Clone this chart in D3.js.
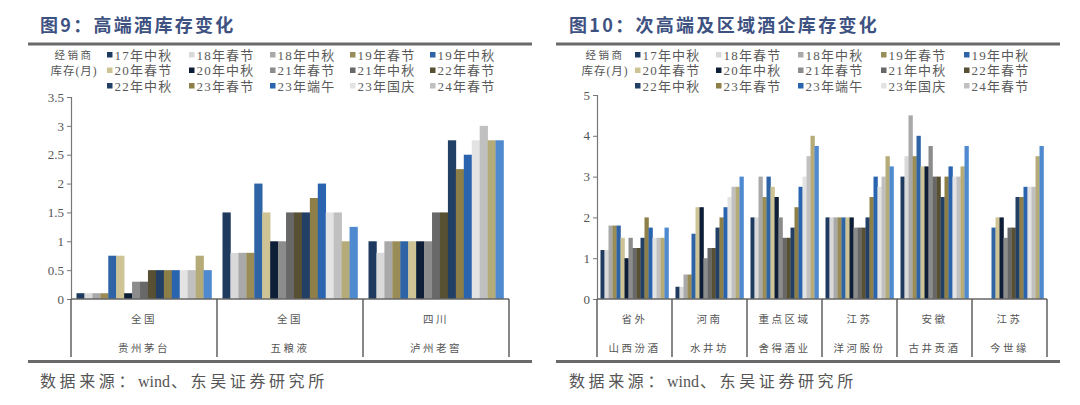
<!DOCTYPE html>
<html><head><meta charset="utf-8">
<script src="https://cdn.jsdelivr.net/npm/d3@7"></script>
<style>
html,body{margin:0;padding:0;background:#fff;}
svg{display:block;}
</style></head>
<body>
<svg id="c" width="1080" height="405"></svg>
<script>
// ---- data ----
const seriesNames = ["17年中秋","18年春节","18年中秋","19年春节","19年中秋","20年春节","20年中秋","21年春节","21年中秋","22年春节","22年中秋","23年春节","23年端午","23年国庆","24年春节","24年端午","24年中秋"];
const legendCount = 15;
const seriesColors = ["#1f3a5f","#d9d9d9","#a9a9a9","#9a8c56","#2e64a6","#cdc394","#0e1e36","#8c8c8c","#686868","#575033","#223f66","#8e7f48","#2a63ae","#e3e3e3","#c0c0c0","#b5ab78","#4f8ad0"];

const leftTitle = "图9：高端酒库存变化";
const leftRegions = ["全国","全国","四川"];
const leftCompanies = ["贵州茅台","五粮液","泸州老窖"];
const leftTicks = [0,0.5,1,1.5,2,2.5,3,3.5];
const leftTickLabels = ["0","0.5","1","1.5","2","2.5","3","3.5"];
const moutai    = [0.1,0.1,0.1,0.1,0.75,0.75,0.1,0.3,0.3,0.5,0.5,0.5,0.5,0.5,0.5,0.75,0.5];
const wuliangye = [1.5,0.8,0.8,0.8,2.0,1.5,1.0,1.0,1.5,1.5,1.5,1.75,2.0,1.5,1.5,1.0,1.25];
const luzhou    = [1.0,0.8,1.0,1.0,1.0,1.0,1.0,1.0,1.5,1.5,2.75,2.25,2.5,2.75,3.0,2.75,2.75];

const rightTitle = "图10：次高端及区域酒企库存变化";
const rightRegions = ["省外","河南","重点区域","江苏","安徽","江苏"];
const rightCompanies = ["山西汾酒","水井坊","舍得酒业","洋河股份","古井贡酒","今世缘"];
const rightTicks = [0,1,2,3,4,5];
const rightTickLabels = ["0","1","2","3","4","5"];
const fenjiu       = [1.2,1.2,1.8,1.8,1.8,1.5,1.0,1.5,1.25,1.25,1.5,2.0,1.75,1.5,1.5,1.5,1.75];
const shuijingfang = [0.3,0.3,0.6,0.6,1.6,2.25,2.25,1.0,1.25,1.25,1.75,2.0,2.25,2.5,2.75,2.75,3.0];
const shede        = [2.0,2.0,3.0,2.5,3.0,2.75,2.5,2.0,1.5,1.5,1.75,2.25,2.75,3.0,3.5,4.0,3.75];
const yanghe       = [2.0,2.0,2.0,2.0,2.0,2.0,2.0,1.75,1.75,1.75,2.0,2.5,3.0,2.75,3.0,3.5,3.25];
const gujing       = [3.0,3.5,4.5,3.5,4.0,3.25,3.25,3.75,3.0,3.0,2.5,3.0,3.25,3.0,3.0,3.25,3.75];
const jinshiyuan   = [null,null,null,null,1.75,2.0,2.0,1.5,1.75,1.75,2.5,2.5,2.75,2.75,2.75,3.5,3.75];

const yLabel1 = "经销商";
const yLabel2 = "库存(月)";
const sourceParts = ["数据来源：", "wind", "、东吴证券研究所"];

// ---- drawing ----
const svg = d3.select("#c");
const serif = "'Liberation Serif','Noto Sans CJK SC',serif";
const cjk = "'Noto Sans CJK SC',sans-serif";

function drawPanel(o){
  const g = svg.append("g");
  // title
  g.append("text").attr("x", o.titleX).attr("y", 32)
    .attr("font-family", cjk).attr("font-weight", 700).attr("font-size", 18).attr("letter-spacing", 2.3)
    .attr("fill", "#3e5282").text(o.title);
  // rules
  g.append("rect").attr("x", o.lineX0).attr("y", 42.5).attr("width", o.lineX1 - o.lineX0).attr("height", 3).attr("fill", "#6a6a6a");
  g.append("rect").attr("x", o.lineX0).attr("y", 360).attr("width", o.lineX1 - o.lineX0).attr("height", 3).attr("fill", "#6a6a6a");
  // y label
  g.append("text").attr("x", o.yLabX).attr("y", 59).attr("text-anchor","middle")
    .attr("font-family", cjk).attr("font-size", 10.5).attr("letter-spacing", 2.5).attr("fill","#555").text(yLabel1);
  g.append("text").attr("x", o.yLabX).attr("y", 75).attr("text-anchor","middle")
    .attr("font-family", serif).attr("font-size", 11.5).attr("letter-spacing", 1).attr("fill","#555").text(yLabel2);
  // legend
  const leg = g.append("g");
  seriesNames.slice(0, legendCount).forEach((n, i) => {
    const col = i % 5, row = Math.floor(i / 5);
    const lx = o.legX[col], ly = 55 + row * 15.5;
    leg.append("rect").attr("x", lx).attr("y", ly - 3).attr("width", 5.5).attr("height", 5.5).attr("fill", seriesColors[i]);
    leg.append("text").attr("x", lx + 7.5).attr("y", ly + 4.5)
      .attr("font-family", serif).attr("font-size", 13).attr("letter-spacing", 1.2)
      .attr("fill", "#5a5a5a").text(n);
  });
  // scales
  const y = d3.scaleLinear().domain([0, o.yMax]).range([299, o.yTop]);
  const x0 = d3.scaleBand().domain(o.companies).range([o.x0, o.x1]).padding(0);
  const x1 = d3.scaleBand().domain(d3.range(seriesNames.length))
    .range([o.gPad, x0.bandwidth() - o.gPad]).padding(0);
  // bars
  const groups = g.append("g").selectAll("g").data(o.companies).join("g")
    .attr("transform", d => `translate(${x0(d)},0)`);
  groups.each(function(c, gi){
    const vals = o.values[gi];
    d3.select(this).selectAll("rect").data(vals.map((v, i) => ({v, i})).filter(d => d.v != null))
      .join("rect")
      .attr("x", d => x1(d.i)).attr("width", x1.bandwidth() + 0.3)
      .attr("y", d => y(d.v)).attr("height", d => y(0) - y(d.v))
      .attr("fill", d => seriesColors[d.i]);
  });
  // y axis
  const yAxis = d3.axisLeft(y).tickValues(o.ticks).tickSize(4).tickFormat((d, i) => o.tickLabels[i]);
  const ya = g.append("g").attr("transform", `translate(${o.x0},0)`).call(yAxis);
  ya.select(".domain").attr("stroke", "#777").attr("stroke-width", 1.2);
  ya.selectAll(".tick line").attr("stroke", "#777");
  ya.selectAll(".tick text").attr("font-family", serif).attr("font-size", 13).attr("fill", "#555").attr("x", -7);
  // x axis baseline
  g.append("line").attr("x1", o.x0).attr("x2", o.x1).attr("y1", y(0)).attr("y2", y(0)).attr("stroke", "#666").attr("stroke-width", 1.3);
  // separators
  const bounds = o.companies.map(c => x0(c)).concat([o.x1]);
  g.selectAll(".sep").data(bounds).join("line")
    .attr("x1", d => d).attr("x2", d => d).attr("y1", y(0)).attr("y2", 357)
    .attr("stroke", "#555").attr("stroke-width", 1.4);
  // category labels
  o.companies.forEach((c, i) => {
    const cx = x0(c) + x0.bandwidth() / 2;
    g.append("text").attr("x", cx).attr("y", 323).attr("text-anchor","middle")
      .attr("font-family", cjk).attr("font-size", 10.5).attr("letter-spacing", 2.5).attr("fill", "#555").text(o.regions[i]);
    g.append("text").attr("x", cx).attr("y", 352).attr("text-anchor","middle")
      .attr("font-family", cjk).attr("font-size", 10.5).attr("letter-spacing", 2.5).attr("fill", "#555").text(c);
  });
  // source
  const st = g.append("text").attr("x", o.titleX).attr("y", 387)
    .attr("font-family", serif).attr("font-size", 16).attr("fill", "#555");
  sourceParts.forEach((p, i) => {
    st.append("tspan").attr("letter-spacing", i === 1 ? 0 : 3.6).attr("dx", i === 2 ? 1 : 0).text(p);
  });
}

drawPanel({
  title: leftTitle, titleX: 40, lineX0: 28, lineX1: 532, yLabX: 74,
  legX: [107, 189, 270, 350, 430],
  companies: leftCompanies, regions: leftRegions,
  values: [moutai, wuliangye, luzhou],
  yMax: 3.5, yTop: 97, ticks: leftTicks, tickLabels: leftTickLabels,
  x0: 71, x1: 509, gPad: 5.5
});
drawPanel({
  title: rightTitle, titleX: 569, lineX0: 556, lineX1: 1060, yLabX: 605,
  legX: [635, 716, 798, 881, 964],
  companies: rightCompanies, regions: rightRegions,
  values: [fenjiu, shuijingfang, shede, yanghe, gujing, jinshiyuan],
  yMax: 5, yTop: 95, ticks: rightTicks, tickLabels: rightTickLabels,
  x0: 597, x1: 1047, gPad: 3.5
});
</script>
</body></html>
